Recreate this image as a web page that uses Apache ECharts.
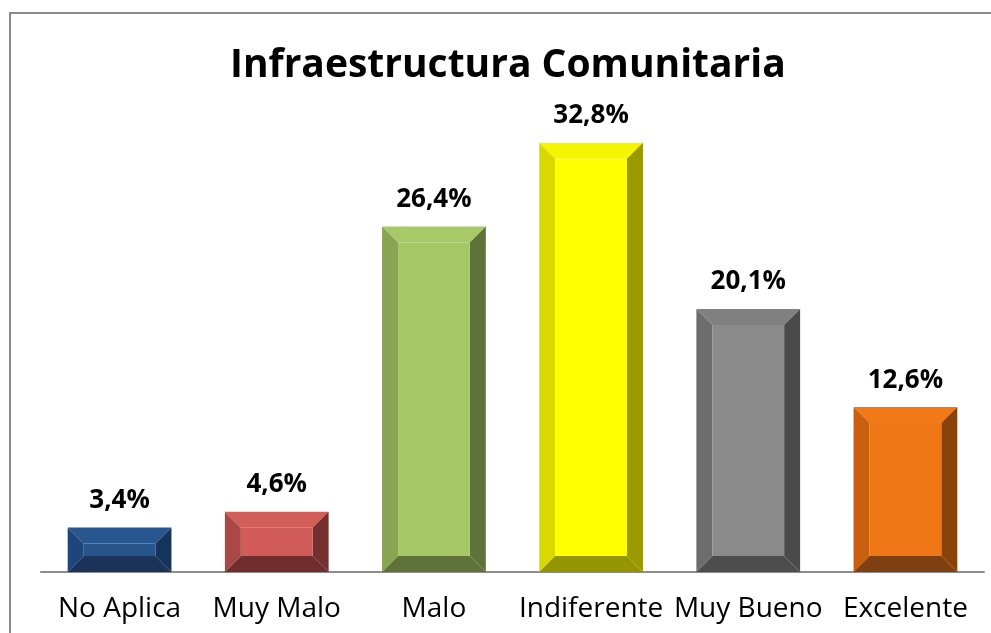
<!DOCTYPE html>
<html>
<head>
<meta charset="utf-8">
<script src="https://cdn.jsdelivr.net/npm/echarts@6/dist/echarts.min.js"></script>
<style>
  html, body { margin: 0; padding: 0; background: #fff; }
  #chart { width: 991px; height: 633px; }
</style>
</head>
<body>
<div id="chart"></div>
<script>
var chart = echarts.init(document.getElementById('chart'));

// datos
var categorias = ['No Aplica', 'Muy Malo', 'Malo', 'Indiferente', 'Muy Bueno', 'Excelente'];
var valores = [3.4, 4.6, 26.4, 32.8, 20.1, 12.6];
var etiquetas = ['3,4%', '4,6%', '26,4%', '32,8%', '20,1%', '12,6%'];

// colores del bisel: cara, arriba, izquierda, derecha, abajo
var colores = [
    ['#27548a', '#28568e', '#1f467a', '#16335a', '#1b3358'],
    ['#d05b58', '#d25e5a', '#a94846', '#73302f', '#6f2d2c'],
    ['#a6c766', '#a8c968', '#88a553', '#5e733a', '#5f7239'],
    ['#ffff00', '#f5f500', '#d9d900', '#9a9a00', '#959500'],
    ['#8a8a8a', '#808080', '#6d6d6d', '#4a4a4a', '#4d4d4d'],
    ['#f07716', '#f27918', '#c8600f', '#8a420b', '#7f3f10']
];

var bisel = 16;

function renderBarra(params, api) {
    var idx = api.value(0);
    var top = api.coord([idx, api.value(1)]);
    var base = api.coord([idx, 0]);
    var ancho = api.size([1, 0])[0] * 0.66;
    var x0 = top[0] - ancho / 2, x1 = top[0] + ancho / 2;
    var y0 = top[1], y1 = base[1];
    var b = Math.min(bisel, (y1 - y0) / 2.5);
    var c = colores[idx];
    var ix0 = x0 + b, ix1 = x1 - b, iy0 = y0 + b, iy1 = y1 - b;
    function poly(pts, color) {
        return { type: 'polygon', shape: { points: pts }, style: { fill: color } };
    }
    return {
        type: 'group',
        children: [
            poly([[x0, y0], [x1, y0], [ix1, iy0], [ix0, iy0]], c[1]),
            poly([[x0, y0], [ix0, iy0], [ix0, iy1], [x0, y1]], c[2]),
            poly([[x1, y0], [x1, y1], [ix1, iy1], [ix1, iy0]], c[3]),
            poly([[x0, y1], [ix0, iy1], [ix1, iy1], [x1, y1]], c[4]),
            { type: 'rect', shape: { x: ix0, y: iy0, width: ix1 - ix0, height: iy1 - iy0 }, style: { fill: c[0] } },
            {
                type: 'text',
                style: {
                    text: etiquetas[idx],
                    x: top[0], y: y0 - 14,
                    textAlign: 'center', textVerticalAlign: 'bottom',
                    fill: '#000', font: 'bold 26px "Open Sans"'
                }
            }
        ]
    };
}

var option = {
    animation: false,
    backgroundColor: '#fff',
    title: {
        text: 'Infraestructura Comunitaria',
        left: 225,
        top: 41,
        textStyle: { fontFamily: 'Open Sans', fontWeight: 'bold', fontSize: 39, color: '#000' }
    },
    graphic: [{
        type: 'rect',
        shape: { x: 10, y: 13, width: 1200, height: 800 },
        style: { fill: 'none', stroke: '#8a8a8a', lineWidth: 2 },
        silent: true
    }],
    grid: { left: 41, right: 7, top: 114, bottom: 61 },
    xAxis: {
        type: 'category',
        data: categorias,
        axisLine: { lineStyle: { color: '#8c8c8c', width: 2 } },
        axisTick: { show: false },
        axisLabel: { color: '#000', fontSize: 28, fontFamily: 'Open Sans', margin: 23, interval: 0 }
    },
    yAxis: {
        type: 'value',
        min: 0, max: 35,
        show: false
    },
    series: [{
        type: 'custom',
        renderItem: renderBarra,
        encode: { x: 0, y: 1 },
        data: valores.map(function (v, i) { return [i, v]; })
    }]
};

chart.setOption(option);
</script>
</body>
</html>
